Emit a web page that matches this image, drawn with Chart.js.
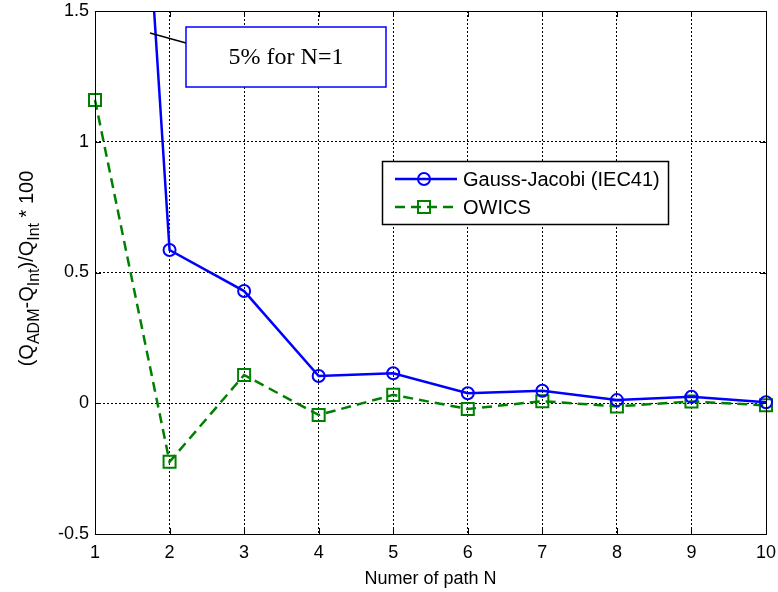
<!DOCTYPE html>
<html>
<head>
<meta charset="utf-8">
<script src="https://cdn.jsdelivr.net/npm/chart.js@4.4.1/dist/chart.umd.min.js"></script>
<style>
  html, body { margin: 0; padding: 0; background: #ffffff; }
  #wrap { width: 778px; height: 592px; position: relative; }
  canvas { display: block; }
</style>
</head>
<body>
<div id="wrap"><canvas id="c" width="778" height="592"></canvas></div>
<script>
// ---- data ----
const pathCounts = [1, 2, 3, 4, 5, 6, 7, 8, 9, 10];
const gaussJacobi = [5, 0.586, 0.429, 0.104, 0.115, 0.038, 0.048, 0.012, 0.025, 0.004];
const owics = [1.16, -0.224, 0.108, -0.045, 0.032, -0.022, 0.008, -0.012, 0.007, -0.008];
const xTickValues = [1, 2, 3, 4, 5, 6, 7, 8, 9, 10];
const yTickValues = [-0.5, 0, 0.5, 1, 1.5];
const seriesNames = ['Gauss-Jacobi (IEC41)', 'OWICS'];
const xTitle = 'Numer of path N';
const yTitleParts = [['(Q', false], ['ADM', true], ['-Q', false], ['Int', true], [')/Q', false], ['Int', true], [' * 100', false]];
const noteText = '5% for N=1';

const FONT = '"Liberation Sans", Arial, Helvetica, sans-serif';
const SERIF = '"Liberation Serif", "Times New Roman", serif';

function pts(values) { return pathCounts.map((x, i) => ({ x: x, y: values[i] })); }

const frame = {
  id: 'frame',
  afterDraw(chart) {
    const ctx = chart.ctx, a = chart.chartArea;
    const xs = chart.scales.x, ys = chart.scales.y;
    ctx.save();
    // box
    ctx.strokeStyle = '#000'; ctx.lineWidth = 1; ctx.setLineDash([]);
    ctx.strokeRect(Math.round(a.left) + 0.5, Math.round(a.top) + 0.5, Math.round(a.right - a.left), Math.round(a.bottom - a.top));
    // inward ticks
    ctx.beginPath();
    xTickValues.forEach(v => {
      const px = Math.round(xs.getPixelForValue(v)) + 0.5;
      ctx.moveTo(px, a.bottom); ctx.lineTo(px, a.bottom - 6);
      ctx.moveTo(px, a.top); ctx.lineTo(px, a.top + 6);
    });
    yTickValues.forEach(v => {
      const py = Math.round(ys.getPixelForValue(v)) + 0.5;
      ctx.moveTo(a.left, py); ctx.lineTo(a.left + 6, py);
      ctx.moveTo(a.right, py); ctx.lineTo(a.right - 6, py);
    });
    ctx.stroke();

    // y title with subscripts
    const mainF = '20px ' + FONT, subF = '16px ' + FONT;
    let total = 0;
    yTitleParts.forEach(([t, sub]) => { ctx.font = sub ? subF : mainF; total += ctx.measureText(t).width; });
    ctx.translate(33, (a.top + a.bottom) / 2 - 4);
    ctx.rotate(-Math.PI / 2);
    ctx.fillStyle = '#000'; ctx.textBaseline = 'alphabetic'; ctx.textAlign = 'left';
    let cx = -total / 2;
    yTitleParts.forEach(([t, sub]) => {
      ctx.font = sub ? subF : mainF;
      ctx.fillText(t, cx, sub ? 6 : 0);
      cx += ctx.measureText(t).width;
    });
    ctx.restore();

    // annotation
    ctx.save();
    const bx = a.left + 91, by = a.top + 16, bw = 200, bh = 60;
    ctx.strokeStyle = '#000'; ctx.lineWidth = 1.5;
    ctx.beginPath(); ctx.moveTo(a.left + 55, a.top + 22); ctx.lineTo(bx, by + 16); ctx.stroke();
    ctx.fillStyle = '#fff'; ctx.fillRect(bx, by, bw, bh);
    ctx.strokeStyle = '#0000ff'; ctx.lineWidth = 1.5; ctx.strokeRect(bx, by, bw, bh);
    ctx.fillStyle = '#000'; ctx.font = '24px ' + SERIF; ctx.textAlign = 'center'; ctx.textBaseline = 'middle';
    ctx.fillText(noteText, bx + bw / 2, by + bh / 2 + 1);
    ctx.restore();

    // legend
    ctx.save();
    const lx = 382, ly = 161, lw = 286, lh = 63;
    ctx.fillStyle = '#fff'; ctx.fillRect(lx, ly, lw, lh);
    ctx.strokeStyle = '#000'; ctx.lineWidth = 1.5; ctx.strokeRect(lx + 0.5, ly + 0.5, lw, lh);
    chart.data.datasets.forEach((ds, i) => {
      const yy = ly + 18 + i * 28;
      ctx.strokeStyle = ds.borderColor; ctx.lineWidth = ds.borderWidth;
      ctx.setLineDash(ds.borderDash || []);
      ctx.beginPath(); ctx.moveTo(lx + 13, yy); ctx.lineTo(lx + 75, yy); ctx.stroke();
      ctx.setLineDash([]);
      ctx.lineWidth = ds.pointBorderWidth;
      const mx = lx + 42;
      ctx.beginPath();
      if (ds.pointStyle === 'circle') { ctx.arc(mx, yy, ds.pointRadius, 0, Math.PI * 2); }
      else { const s = ds.pointRadius * Math.SQRT1_2; ctx.rect(mx - s, yy - s, 2 * s, 2 * s); }
      ctx.stroke();
      ctx.fillStyle = '#000'; ctx.font = '20px ' + FONT; ctx.textAlign = 'left'; ctx.textBaseline = 'middle';
      ctx.fillText(ds.label, lx + 81, yy + 1);
    });
    ctx.restore();
  }
};

new Chart(document.getElementById('c'), {
  type: 'line',
  data: {
    datasets: [
      {
        label: seriesNames[0], data: pts(gaussJacobi),
        borderColor: '#0000ff', borderWidth: 2.5, tension: 0,
        pointStyle: 'circle', pointRadius: 6, pointBorderWidth: 2,
        pointBackgroundColor: 'rgba(0,0,0,0)', pointBorderColor: '#0000ff',
        pointHoverRadius: 6, clip: { left: 12, right: 12, top: 0, bottom: 12 }
      },
      {
        label: seriesNames[1], data: pts(owics),
        borderColor: '#008000', borderWidth: 2.5, borderDash: [10, 6], tension: 0,
        pointStyle: 'rect', pointRadius: 8.5, pointBorderWidth: 2,
        pointBackgroundColor: 'rgba(0,0,0,0)', pointBorderColor: '#008000',
        pointHoverRadius: 8.5, clip: { left: 12, right: 12, top: 0, bottom: 12 }
      }
    ]
  },
  options: {
    responsive: false, animation: false, devicePixelRatio: 1,
    layout: { padding: { left: 0, right: 12, top: 11, bottom: 0 } },
    plugins: { legend: { display: false }, tooltip: { enabled: false } },
    scales: {
      x: {
        type: 'linear', min: 1, max: 10,
        afterFit(s) { s.height = 58; s.paddingLeft = 0; s.paddingRight = 0; },
        afterBuildTicks(s) { s.ticks = xTickValues.map(v => ({ value: v })); },
        ticks: { color: '#000', font: { family: FONT, size: 18 }, padding: 8, maxRotation: 0 },
        grid: { color: '#000', lineWidth: 1, drawTicks: false },
        border: { display: false, dash: [2, 2] },
        title: { display: true, text: xTitle, color: '#000', font: { family: FONT, size: 18 }, padding: { top: 0, bottom: 2 } }
      },
      y: {
        type: 'linear', min: -0.5, max: 1.5,
        afterFit(s) { s.width = 95; s.paddingTop = 0; s.paddingBottom = 0; },
        afterBuildTicks(s) { s.ticks = yTickValues.map(v => ({ value: v })); },
        ticks: { color: '#000', font: { family: FONT, size: 18 }, padding: 6, callback: v => String(v) },
        grid: { color: '#000', lineWidth: 1, drawTicks: false },
        border: { display: false, dash: [2, 2] }
      }
    }
  },
  plugins: [frame]
});
</script>
</body>
</html>
